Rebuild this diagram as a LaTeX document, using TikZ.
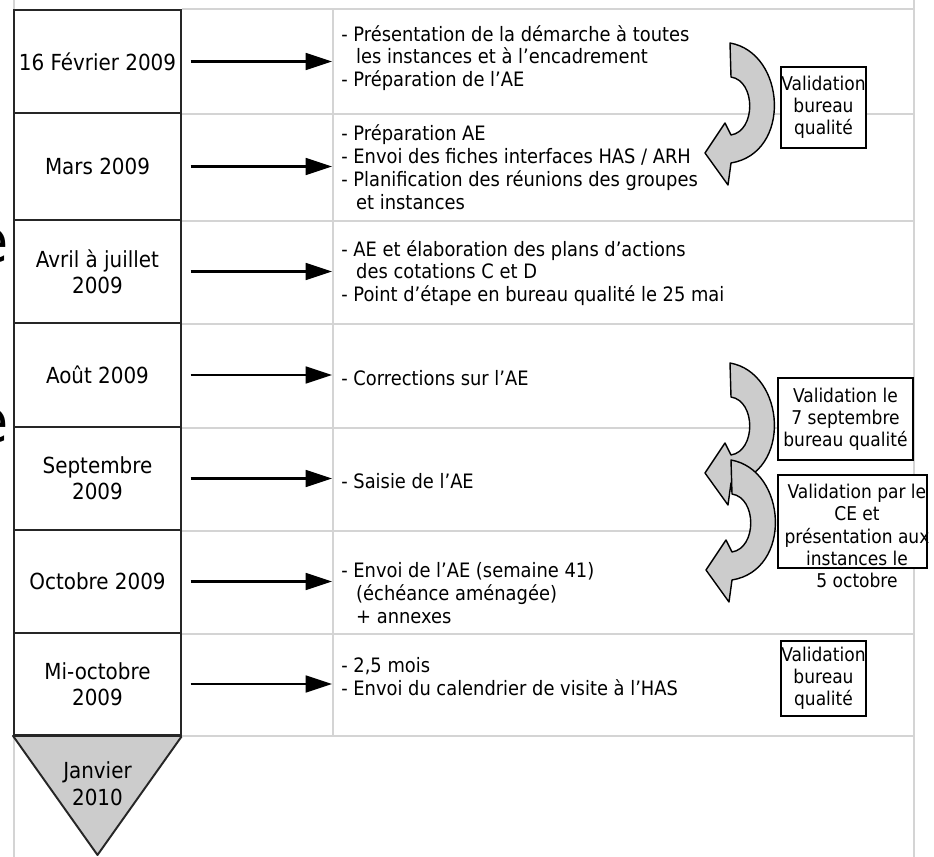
\documentclass[tikz,border=0pt]{standalone}
\usepackage{fontspec}
\setmainfont{DejaVu Sans Condensed}
\usepackage{tikz}
\usetikzlibrary{arrows.meta}
\usetikzlibrary{positioning}

\definecolor{gridgray}{RGB}{212,212,212}
\definecolor{shadegray}{RGB}{204,204,204}

\tikzset{
  datebox/.style={draw=black!85, line width=1.1pt, fill=white, minimum width=3.34cm,
    align=center, inner sep=0pt, font=\fontsize{12.6}{15}\selectfont},
  notes/.style={anchor=west, align=left, inner sep=0pt, font=\fontsize{11.3}{13}\selectfont},
  valbox/.style={draw, line width=1.1pt, fill=white, align=center, inner sep=0pt,
    font=\fontsize{10.8}{12.6}\selectfont},
  timearrow/.style={line width=1.5pt, -{Triangle[length=15pt,width=9.5pt]}, shorten <=5pt},
  gridline/.style={gridgray, line width=0.8pt},
  uturn/.pic={
    \filldraw[fill=shadegray, draw=black, line width=0.8pt, line join=round]
      (24,-110) .. controls (80,-100) and (86,0) .. (25,10)
      -- (22,32) -- (-1,0) -- (19,-30) -- (25,-18)
      .. controls (50,-22) and (50,-72) .. (25,-76) -- cycle;
  }
}
\newcommand{\cont}{\hspace*{0.75em}}

\begin{document}
\begin{tikzpicture}[x=0.02cm, y=-0.02cm]
  \useasboundingbox (0,0) rectangle (934,857);
  \fill[white] (0,0) rectangle (934,857);

  % cut-off letters at the left edge
  \node[anchor=east, inner sep=0pt, font=\fontsize{34}{34}\selectfont] (cut1) at (9,246) {e};
  \node[anchor=east, inner sep=0pt, font=\fontsize{34}{34}\selectfont] (cut2) at (9,426) {e};

  \coordinate (rt) at (914,0);
  \coordinate (tipx) at (332,0);

  \draw[gridline] (14,0) -- (14,857);
  \draw[gridline] (914,0) -- (914,857);
  \draw[gridline] (333,10) -- (333,735);

  % dates
  \node[datebox, minimum height=2.06cm] (d1) at (97.5,61.5) {16 Février 2009};
  \node[datebox, minimum height=2.14cm] (d2) at (97.5,166.5) {Mars 2009};
  \node[datebox, minimum height=2.06cm] (d3) at (97.5,271.5) {Avril à juillet\\2009};
  \node[datebox, minimum height=2.08cm] (d4) at (97.5,375) {Août 2009};
  \node[datebox, minimum height=2.06cm] (d5) at (97.5,478.5) {Septembre\\2009};
  \node[datebox, minimum height=2.06cm] (d6) at (97.5,581.5) {Octobre 2009};
  \node[datebox, minimum height=2.04cm] (d7) at (97.5,684) {Mi-octobre\\2009};

  \coordinate (apex) at (97.5,855);
  \filldraw[fill=shadegray, draw=black!85, line width=1.1pt, line join=round]
    (d7.south west) -- (d7.south east) -- (apex) -- cycle;
  \node[align=center, inner sep=0pt, font=\fontsize{12.6}{15.4}\selectfont] (jan) at (97.5,784) {Janvier\\2010};

  \draw[gridline] (d1.north east) -- (d1.north east -| rt);
  \draw[gridline] (d1.south east) -- (d1.south east -| rt);
  \draw[gridline] (d2.south east) -- (d2.south east -| rt);
  \draw[gridline] (d3.south east) -- (d3.south east -| rt);
  \draw[gridline] (d4.south east) -- (d4.south east -| rt);
  \draw[gridline] (d5.south east) -- (d5.south east -| rt);
  \draw[gridline] (d6.south east) -- (d6.south east -| rt);
  \draw[gridline] (d7.south east) -- (d7.south east -| rt);

  \draw[timearrow] (d1.east) -- (d1.east -| tipx);
  \draw[timearrow] (d2.east) -- (d2.east -| tipx);
  \draw[timearrow] (d3.east) -- (d3.east -| tipx);
  \draw[timearrow] (d4.east) -- (d4.east -| tipx);
  \draw[timearrow] (d5.east) -- (d5.east -| tipx);
  \draw[timearrow] (d6.east) -- (d6.east -| tipx);
  \draw[timearrow] (d7.east) -- (d7.east -| tipx);

  % actions
  \node[notes] (n1) at (341,58) {- Présentation de la démarche à toutes\\\cont les instances et à l'encadrement\\- Préparation de l'AE};
  \node[notes] (n2) at (341,167) {- Préparation AE\\- Envoi des fiches interfaces HAS / ARH\\- Planification des réunions des groupes\\\cont et instances};
  \node[notes] (n3) at (341,273) {- AE et élaboration des plans d'actions\\\cont des cotations C et D\\- Point d'étape en bureau qualité le 25 mai};
  \node[notes] (n4) at (341,378) {- Corrections sur l'AE};
  \node[notes] (n5) at (341,481) {- Saisie de l'AE};
  \node[notes] (n6) at (341,593) {- Envoi de l'AE (semaine 41)\\\cont(échéance aménagée)\\\cont+ annexes};
  \node[notes] (n7) at (341,677) {- 2,5 mois\\- Envoi du calendrier de visite à l'HAS};

  % validations
  \pic at (706,153) {uturn};
  \node[valbox, minimum width=1.7cm, minimum height=1.62cm] (v1) at (823.5,107.5) {Validation\\bureau\\qualité};

  \pic at (706,473) {uturn};
  \pic at (707,570) {uturn};
  \node[valbox, minimum width=2.7cm, minimum height=1.64cm] (v2) at (845.5,419) {Validation le\\7 septembre\\bureau qualité};
  \filldraw[fill=white, draw=black, line width=1.1pt] (778,475) rectangle (927,568);
  \node[align=center, inner sep=0pt, font=\fontsize{10.8}{12.6}\selectfont] (v3) at (857,536) {Validation par le\\CE et\\présentation aux\\instances le\\5 octobre};

  \node[valbox, minimum width=1.7cm, minimum height=1.5cm] (v4) at (823.5,678.5) {Validation\\bureau\\qualité};
\end{tikzpicture}
\end{document}
